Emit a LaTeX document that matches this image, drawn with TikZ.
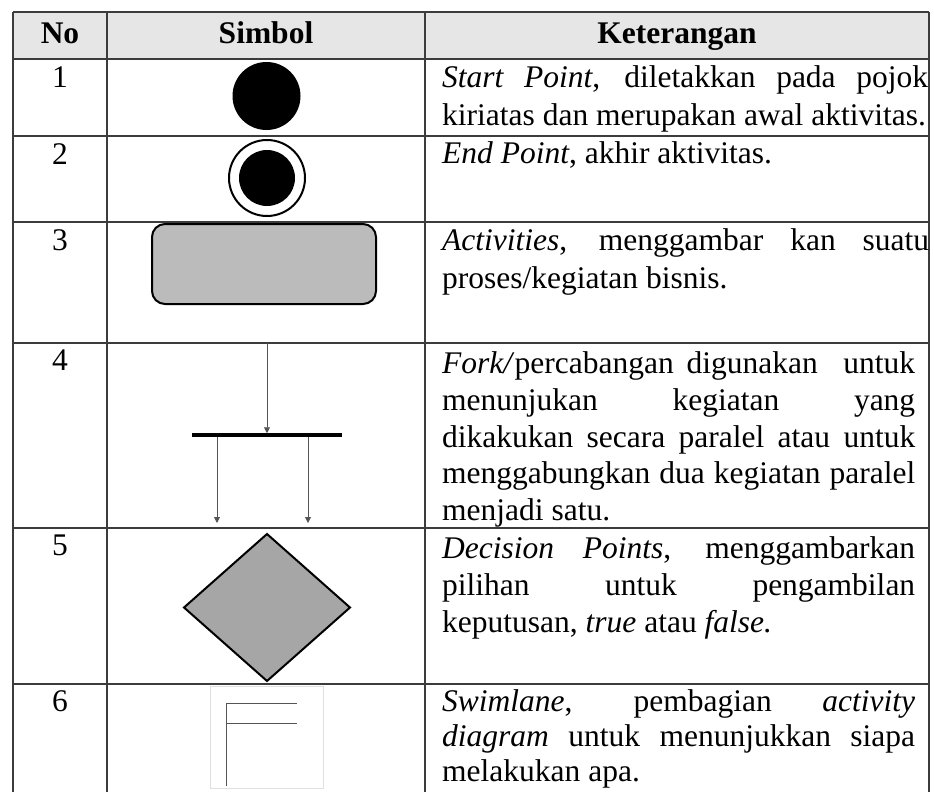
\documentclass[tikz,border=0pt]{standalone}
\usepackage{fontspec}
\setmainfont{Liberation Serif}
\usetikzlibrary{arrows.meta,shapes.geometric}
\definecolor{hdrfill}{HTML}{E6E6E6}
\definecolor{gridcol}{HTML}{3C3C3C}
\definecolor{actfill}{HTML}{BBBBBB}
\definecolor{decfill}{HTML}{A6A6A6}
\definecolor{flowcol}{HTML}{555555}
\begin{document}
\begin{tikzpicture}[x=1pt,y=-1pt,
  gridline/.style={draw=gridcol, line width=1.3pt},
  hdr/.style={font=\fontsize{31.5}{37}\selectfont\bfseries, anchor=base, inner sep=0pt},
  num/.style={font=\fontsize{31.5}{37}\selectfont, anchor=base, inner sep=0pt},
  txt/.style={font=\fontsize{31.5}{37}\selectfont, anchor=base west, inner sep=0pt},
  flow/.style={draw=flowcol, line width=0.9pt, -{Triangle[length=6pt,width=6pt]}},
  lane/.style={draw=flowcol, line width=0.9pt},
  symb/.style={inner sep=0pt, outer sep=0pt}
]
\useasboundingbox (0,0) rectangle (934,792);
% header background
\fill[hdrfill] (13,12) rectangle (929,59);
% grid
\foreach \yy in {12,59,136,222,343,528,684}
  \draw[gridline] (13,\yy) -- (929,\yy);
\foreach \xx in {13,107,425,929}
  \draw[gridline] (\xx,12) -- (\xx,792);

% header
\node[hdr] (hno) at (60,44) {No};
\node[hdr] (hsym) at (266,44) {Simbol};
\node[hdr] (hket) at (677,44) {Keterangan};

% numbers
\node[num] (n1) at (60,87) {1};
\node[num] (n2) at (60,164) {2};
\node[num] (n3) at (60,250) {3};
\node[num] (n4) at (60,370) {4};
\node[num] (n5) at (60,555) {5};
\node[num] (n6) at (60,711) {6};

% symbols
\node[symb, circle, fill=black, minimum size=68pt] (start) at (266.5,96) {};
\node[symb, circle, draw=black, line width=2pt, minimum size=76pt] (endo) at (267,178) {};
\node[symb, circle, fill=black, minimum size=56pt] (endi) at (267,178) {};
\node[symb, draw=black, line width=2pt, fill=actfill, rounded corners=13pt,
      minimum width=224pt, minimum height=80pt] (act) at (264,264) {};
% fork
\coordinate (fin) at (267,343);
\node[symb, fill=black, minimum width=150pt, minimum height=3.5pt] (bar) at (267,435) {};
\coordinate (fl) at (217,523);
\coordinate (fr) at (308,523);
\draw[flow] (fin) -- (bar.north);
\draw[flow] (bar.south -| fl) -- (fl);
\draw[flow] (bar.south -| fr) -- (fr);
% decision
\node[symb, diamond, draw=black, line width=2pt, fill=decfill,
      minimum width=166pt, minimum height=147pt] (dec) at (267,607.5) {};
% swimlane
\node[symb, draw=black!12, line width=0.8pt, minimum width=113pt, minimum height=102pt] (swim) at (266.5,737) {};
\draw[lane] (226,786) -- (226,703) -- (297,703);
\draw[lane] (226,723) -- (297,723);

% descriptions
\node[txt] (t1a) at (442,87) {\makebox[486pt][s]{\textit{Start Point}, diletakkan pada pojok}};
\node[txt] (t1b) at (442,125) {kiriatas dan merupakan awal aktivitas.};
\node[txt] (t2a) at (442,163) {\textit{End Point}, akhir aktivitas.};
\node[txt] (t3a) at (442,250) {\makebox[487pt][s]{\textit{Activities}, menggambar kan suatu}};
\node[txt] (t3b) at (442,288) {proses/kegiatan bisnis.};
\node[txt] (t4a) at (442,373) {\makebox[473pt][s]{\textit{Fork/}percabangan digunakan \ untuk}};
\node[txt] (t4b) at (442,410) {\makebox[473pt][s]{menunjukan kegiatan yang}};
\node[txt] (t4c) at (442,447) {\makebox[473pt][s]{dikakukan secara paralel atau untuk}};
\node[txt] (t4d) at (442,483) {\makebox[473pt][s]{menggabungkan dua kegiatan paralel}};
\node[txt] (t4e) at (442,520) {menjadi satu.};
\node[txt] (t5a) at (442,558) {\makebox[473pt][s]{\textit{Decision Points}, menggambarkan}};
\node[txt] (t5b) at (442,595) {\makebox[473pt][s]{pilihan untuk pengambilan}};
\node[txt] (t5c) at (442,632) {keputusan, \textit{true} atau \textit{false.}};
\node[txt] (t6a) at (442,711) {\makebox[473pt][s]{\textit{Swimlane}, pembagian \textit{activity}}};
\node[txt] (t6b) at (442,746) {\makebox[473pt][s]{\textit{diagram} untuk menunjukkan siapa}};
\node[txt] (t6c) at (442,781) {melakukan apa.};
\end{tikzpicture}
\end{document}
